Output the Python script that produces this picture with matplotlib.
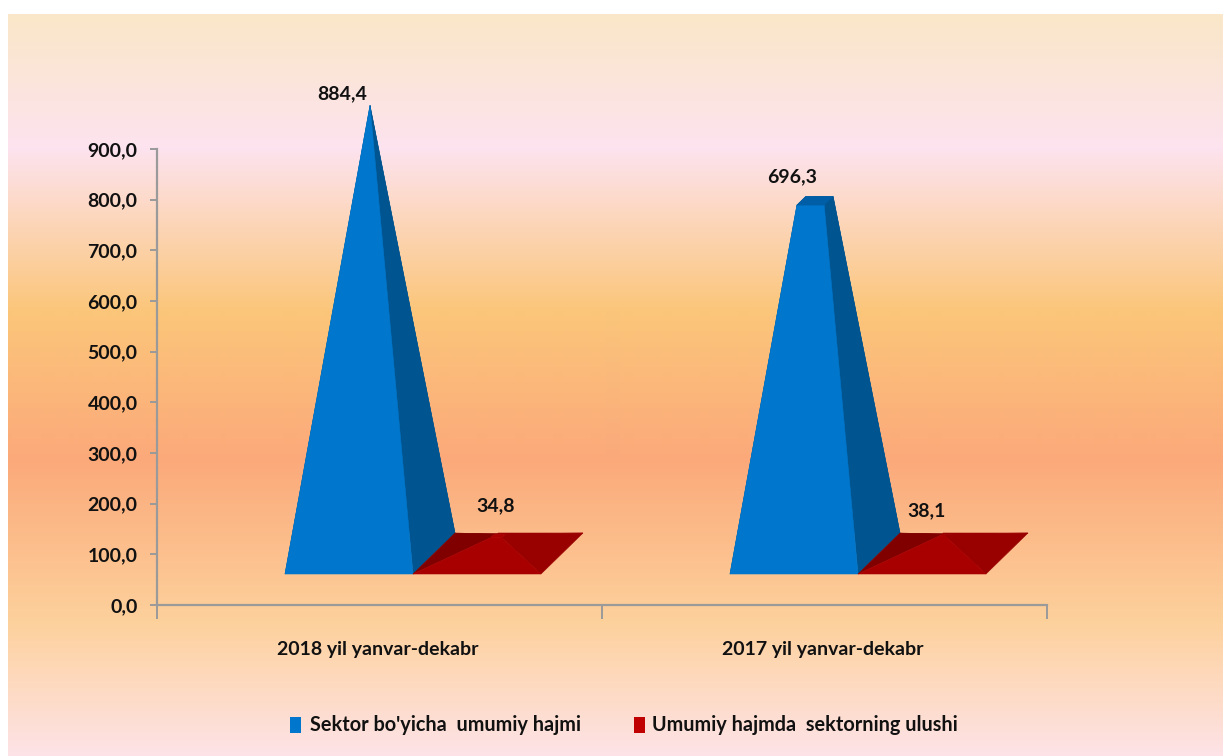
import numpy as np
import matplotlib
matplotlib.use('Agg')
import matplotlib.pyplot as plt
from matplotlib.colors import LinearSegmentedColormap
from matplotlib.patches import Polygon, Rectangle

categories = ['2018 yil yanvar-dekabr', '2017 yil yanvar-dekabr']
sector_total = [884.4, 696.3]
sector_share = [34.8, 38.1]
total_labels = ['884,4', '696,3']
share_labels = ['34,8', '38,1']
series_names = ["Sektor bo'yicha  umumiy hajmi", 'Umumiy hajmda  sektorning ulushi']
yticks = [0, 100, 200, 300, 400, 500, 600, 700, 800, 900]

W, H = 1223, 756
plt.rcParams['font.family'] = ['Lato', 'DejaVu Sans']
plt.rcParams['font.weight'] = 'bold'
INK = '#111111'
AXIS = '#9a9a9a'
FS = 14

fig = plt.figure(figsize=(W / 100, H / 100), dpi=100, facecolor='white')

# slide background gradient
bg = fig.add_axes([8 / W, 0, 1 - 8 / W, 1 - 14 / H], zorder=0)
stops = [(0.0, '#fae7c8'), (0.18, '#fde3ef'), (0.40, '#fbc67a'),
         (0.60, '#fba97a'), (0.82, '#fdd19c'), (1.0, '#fde3e8')]
cmap = LinearSegmentedColormap.from_list('slide', stops, N=1024)
bg.imshow(np.linspace(0, 1, 742)[:, None], aspect='auto', cmap=cmap, vmin=0, vmax=1,
          interpolation='bilinear')
bg.axis('off')

# plot area, y axis from px 605 up to px 149
ax = fig.add_axes([157 / W, 1 - 605 / H, (1047 - 157) / W, (605 - 149) / H], zorder=1)
ax.patch.set_alpha(0)
ax.set_xlim(-0.5, 1.5)
ax.set_ylim(0, 900)

PX_X = 2 / (1047 - 157)   # x units per pixel
PX_Y = 900 / (605 - 149)  # y units per pixel
BAR_W = 128 * PX_X
DEPTH_X = 42 * PX_X
DEPTH_Y = 41 * PX_Y
FLOOR = 31 * PX_Y
LEFT = -94.5 * PX_X

# label nudges in pixels from the top of each mark
total_nudge = [(-28, 11.5), (-23, 24)]
share_nudge = [(-2, 30), (-16, 23)]


def pyramid(x0, value, series_max, front, left, right, top):
    # oblique 3d pyramid that stops at the value
    cx = x0 + BAR_W / 2 + DEPTH_X / 2
    cy = FLOOR + DEPTH_Y / 2
    t = value / series_max
    apex = (cx, cy + series_max)

    def up(p):
        return (p[0] + (apex[0] - p[0]) * t, p[1] + (apex[1] - p[1]) * t)

    fl = (x0, FLOOR)
    fr = (x0 + BAR_W, FLOOR)
    bl = (x0 + DEPTH_X, FLOOR + DEPTH_Y)
    br = (x0 + BAR_W + DEPTH_X, FLOOR + DEPTH_Y)
    bm = (cx, FLOOR + DEPTH_Y)
    faces = [([bl, bm, up(bm), up(bl)], left),
             ([bm, br, up(br), up(bm)], right),
             ([bl, fl, up(fl), up(bl)], left),
             ([fr, br, up(br), up(fr)], right),
             ([fl, fr, up(fr), up(fl)], front),
             ([up(fl), up(fr), up(br), up(bl)], top)]
    for pts, color in faces:
        ax.add_patch(Polygon(pts, closed=True, facecolor=color, edgecolor=color,
                             linewidth=0.4, clip_on=False, zorder=3))
    return cx, cy + value


for i in range(len(categories)):
    x0 = i + LEFT
    cx, cy = pyramid(x0, sector_total[i], max(sector_total),
                     '#0077cc', '#005490', '#005490', '#005ea6')
    dx, dy = total_nudge[i]
    ax.text(cx + dx * PX_X, cy + dy * PX_Y, total_labels[i], fontsize=FS,
            color=INK, ha='center', va='center', zorder=4)
    cx, cy = pyramid(x0 + BAR_W, sector_share[i], max(sector_share),
                     '#a80000', '#800000', '#990000', '#a80000')
    dx, dy = share_nudge[i]
    ax.text(cx + dx * PX_X, cy + dy * PX_Y, share_labels[i], fontsize=FS,
            color=INK, ha='center', va='center', zorder=4)

for s in ['top', 'right']:
    ax.spines[s].set_visible(False)
for s in ['left', 'bottom']:
    ax.spines[s].set_color(AXIS)
    ax.spines[s].set_linewidth(1.6)

ax.set_yticks(yticks)
ax.set_yticklabels([f'{v:.1f}'.replace('.', ',') for v in yticks], fontsize=FS, color=INK)
ax.tick_params(axis='y', length=5, width=1.4, color=AXIS, pad=9)
ax.set_xticks([-0.5, 0.5, 1.5])
ax.set_xticklabels([])
ax.tick_params(axis='x', length=10, width=1.4, color=AXIS)
for i, name in enumerate(categories):
    ax.text(i - 2 * PX_X, -44 * PX_Y, name, fontsize=FS, color=INK, ha='center', va='center', clip_on=False)

# legend
for px, tx, color, name in [(290, 310, '#0077cc', series_names[0]), (634, 652, '#c00000', series_names[1])]:
    fig.patches.append(Rectangle((px / W, 1 - 733 / H), 11 / W, 16 / H, transform=fig.transFigure,
                                 facecolor=color, edgecolor='none', zorder=5))
    fig.text(tx / W, 1 - 725 / H, name, fontsize=14.3, color=INK, ha='left', va='center', zorder=5)

fig.savefig('out.png', dpi=100, facecolor='white')
